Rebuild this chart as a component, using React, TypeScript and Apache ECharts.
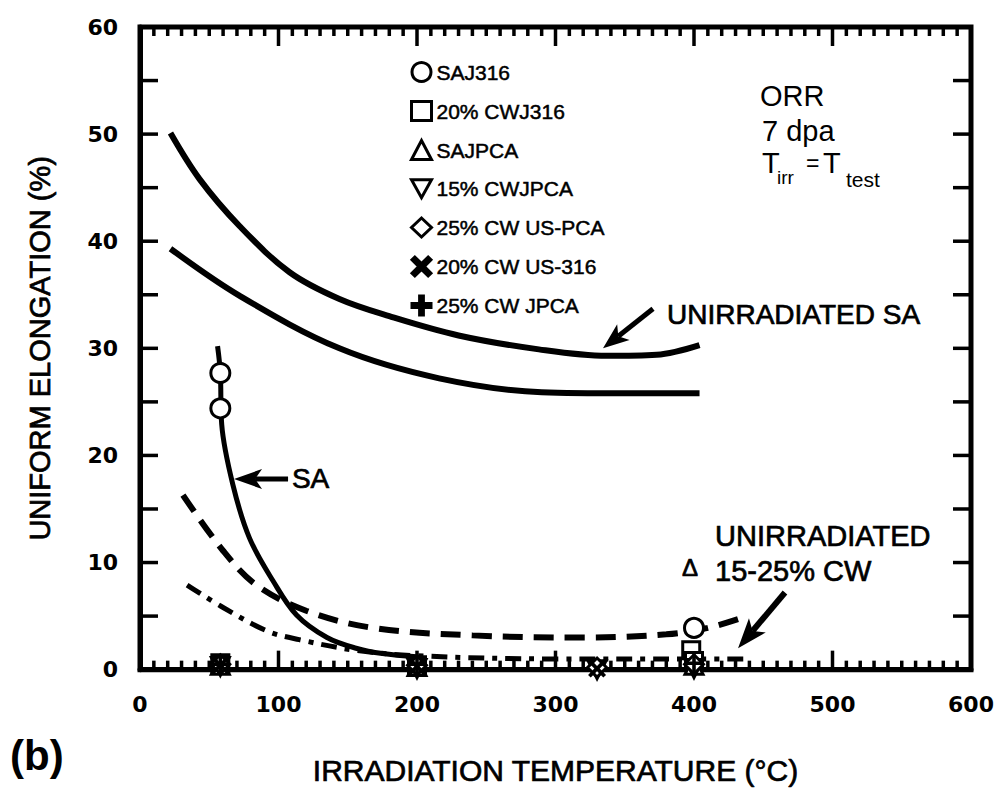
import React, { useEffect, useRef } from "react";
import * as echarts from "echarts";

// ---- axes ----
const X_MIN = 0;
const X_MAX = 600;
const X_STEP = 100;
const X_MINOR_STEP = 10;
const Y_MIN = 0;
const Y_MAX = 60;
const Y_STEP = 10;
const Y_MINOR_STEP = 5;

// ---- curves (temperature °C, uniform elongation %) ----
const unirradiatedSAUpper = [
  [22, 50.1], [43, 45.8], [72, 41.4], [108, 37.1], [144, 34.6], [180, 33.0],
  [230, 31.2], [288, 29.9], [337, 29.3], [373, 29.4], [404, 30.3],
];
const unirradiatedSALower = [
  [22, 39.3], [72, 34.9], [144, 30.0], [216, 27.2], [290, 25.9], [350, 25.8], [404, 25.8],
];
const irradiatedSA = [
  [56, 30.2], [58, 27.7], [59, 22.9], [67, 17.3], [79, 12.3], [96, 8.3], [113, 5.1],
  [135, 3.0], [156, 2.0], [175, 1.5], [200, 1.2],
];
const unirradiatedCWDashed = [
  [31, 16.3], [60, 11.1], [84, 7.9], [120, 5.5], [168, 3.9], [240, 3.2], [320, 3.0],
  [380, 3.3], [410, 3.9], [436, 4.9],
];
const irradiatedCWDashDot = [
  [34, 7.9], [60, 5.8], [92, 3.6], [115, 2.8], [156, 1.8], [200, 1.3], [300, 1.0],
  [400, 1.0], [440, 1.0],
];

// ---- data points ----
const saj316 = [[58, 27.7], [58, 24.4], [400, 3.9]];
const cwj316 = [[58, 0.6], [200, 0.4], [398, 1.8], [400, 0.8]];
const sajpca = [[58, 0.4], [200, 0.3], [400, 0.4]];
const cwjpca15 = [[58, 0.3], [200, 0.1], [330, 0.0], [400, 0.1]];
const cwUSPCA25 = [[58, 0.5], [200, 0.4], [330, 0.2], [400, 0.5]];
const cwUS316_20 = [[58, 0.4], [200, 0.3], [330, 0.1]];
const cwJPCA25 = [[58, 0.5], [200, 0.5], [400, 0.6]];

const legendNames = [
  "SAJ316",
  "20% CWJ316",
  "SAJPCA",
  "15% CWJPCA",
  "25% CW US-PCA",
  "20% CW US-316",
  "25% CW JPCA",
];

// ---- annotation anchors (data coordinates) ----
const noteORR = [447.7, 53.6];
const noteDpa = [449.1, 50.3];
const noteTirr = [449.1, 47.3];
const noteUnirrSA = [380.5, 33.2];
const arrowUnirrSA = [[370.4, 33.7], [334.3, 30.0]];
const noteSA = [109.7, 17.8];
const arrowSA = [[106.9, 17.8], [67.9, 17.8]];
const noteUnirrCW1 = [415.2, 12.5];
const noteDelta = [391.3, 9.5];
const noteUnirrCW2 = [415.2, 9.2];
const arrowUnirrCW = [[465.7, 7.2], [431.8, 2.0]];

const FONT = "'Liberation Sans', Arial, Helvetica, sans-serif";
const TICKFONT = "'DejaVu Sans', Verdana, sans-serif";

export default function App() {
  const ref = useRef<HTMLDivElement>(null);

  useEffect(() => {
    const chart = echarts.init(ref.current!, null, { renderer: "svg" });

    const lineSeries = (name: string, data: number[][], type: any, width = 6) => ({
      name,
      type: "line",
      data,
      smooth: 0.35,
      showSymbol: false,
      symbol: "none",
      lineStyle: { color: "#000", width, type, cap: "butt" },
      z: 2,
      silent: true,
    });

    const openStyle = () => ({ color: "#fff", borderColor: "#000", borderWidth: 3, opacity: 1 });
    const filledStyle = () => ({ color: "#000", borderWidth: 0, opacity: 1 });

    const scatter = (name: string, data: number[][], symbol: string, style: any, size = 18) => ({
      name,
      type: "scatter",
      data,
      symbol,
      symbolSize: size,
      itemStyle: style,
      z: 5,
    });

    const X_PATH = "path://M0,3 L3,0 L10,7 L17,0 L20,3 L13,10 L20,17 L17,20 L10,13 L3,20 L0,17 L7,10 Z";
    const PLUS_PATH = "path://M8,0 L12,0 L12,8 L20,8 L20,12 L12,12 L12,20 L8,20 L8,12 L0,12 L0,8 L8,8 Z";
    const INV_TRI = "path://M0,0 L20,0 L10,18 Z";

    const heavyLabel = { textBorderColor: "#000", textBorderWidth: 0.7 };

    chart.setOption({
      animation: false,
      backgroundColor: "#fff",
      grid: { left: 140, right: 37, top: 27, bottom: 119, show: true, borderColor: "#000", borderWidth: 5, backgroundColor: "transparent" },
      xAxis: {
        type: "value",
        min: X_MIN,
        max: X_MAX,
        interval: X_STEP,
        axisLine: { show: true, lineStyle: { color: "#000", width: 5 } },
        axisTick: { show: false },
        minorTick: { show: false },
        splitLine: { show: false },
        name: "IRRADIATION TEMPERATURE (°C)",
        nameLocation: "middle",
        nameGap: 86,
        nameTextStyle: { fontFamily: FONT, fontSize: 30, color: "#000", ...heavyLabel },
        axisLabel: { show: true, color: "#000", fontFamily: TICKFONT, fontWeight: "bold", fontSize: 22, margin: 24 },
      },
      yAxis: {
        type: "value",
        min: Y_MIN,
        max: Y_MAX,
        interval: Y_STEP,
        axisLine: { show: true, lineStyle: { color: "#000", width: 5 } },
        axisTick: { show: false },
        minorTick: { show: false },
        splitLine: { show: false },
        name: "UNIFORM ELONGATION (%)",
        nameLocation: "middle",
        nameRotate: 90,
        nameGap: 86,
        nameTextStyle: { fontFamily: FONT, fontSize: 29, color: "#000", ...heavyLabel },
        axisLabel: { show: true, color: "#000", fontFamily: TICKFONT, fontWeight: "bold", fontSize: 22, margin: 22 },
      },
      legend: {
        data: legendNames,
        orient: "vertical",
        left: 405,
        top: 56,
        itemWidth: 20,
        itemHeight: 19,
        itemGap: 17,
        selectedMode: false,
        itemStyle: { borderWidth: 3, borderColor: "#000" },
        textStyle: { fontFamily: FONT, fontSize: 21, lineHeight: 21, color: "#000", textBorderColor: "#000", textBorderWidth: 0.5 },
      },
      series: [
        lineSeries("Unirradiated SA (upper)", unirradiatedSAUpper, "solid", 6),
        lineSeries("Unirradiated SA (lower)", unirradiatedSALower, "solid", 6),
        lineSeries("Irradiated SA", irradiatedSA, "solid", 5),
        lineSeries("Unirradiated 15-25% CW", unirradiatedCWDashed, [20, 11], 6),
        lineSeries("Irradiated CW", irradiatedCWDashDot, [16, 8, 5, 8], 5),
        scatter(legendNames[0], saj316, "circle", openStyle(), 19),
        scatter(legendNames[1], cwj316, "rect", openStyle(), 17),
        scatter(legendNames[2], sajpca, "triangle", openStyle(), 18),
        scatter(legendNames[3], cwjpca15, INV_TRI, openStyle(), 18),
        scatter(legendNames[4], cwUSPCA25, "diamond", openStyle(), 19),
        scatter(legendNames[5], cwUS316_20, X_PATH, filledStyle(), 18),
        scatter(legendNames[6], cwJPCA25, PLUS_PATH, filledStyle(), 18),
      ],
    });

    const P = (p: number[]) => chart.convertToPixel({ xAxisIndex: 0, yAxisIndex: 0 }, p) as number[];

    // frame ticks, placed through the axes' own data-to-pixel conversion
    const tickStyle = { stroke: "#000", lineWidth: 3.5 };
    const tickLine = (x1: number, y1: number, x2: number, y2: number) => ({
      type: "line",
      silent: true,
      z: 3,
      shape: { x1, y1, x2, y2 },
      style: tickStyle,
    });
    const ticks: any[] = [];
    for (let v = X_MIN + X_MINOR_STEP; v < X_MAX; v += X_MINOR_STEP) {
      const len = v % X_STEP === 0 ? 19 : 9;
      const [xb, yb] = P([v, Y_MIN]);
      const [, yt] = P([v, Y_MAX]);
      ticks.push(tickLine(xb, yb, xb, yb - len));
      ticks.push(tickLine(xb, yt, xb, yt + len));
    }
    for (let v = Y_MIN + Y_MINOR_STEP; v < Y_MAX; v += Y_MINOR_STEP) {
      const [xl, yy] = P([X_MIN, v]);
      const [xr] = P([X_MAX, v]);
      ticks.push(tickLine(xl, yy, xl + 18, yy));
      ticks.push(tickLine(xr, yy, xr - 18, yy));
    }

    const heavy = { stroke: "#000", lineWidth: 0.7 };

    const text = (anchor: number[], str: string, size: number, extra: any = {}, dx = 0, dy = 0) => {
      const [x, y] = P(anchor);
      return {
        type: "text",
        x: x + dx,
        y: y + dy,
        silent: true,
        style: {
          text: str,
          fontFamily: FONT,
          fontSize: size,
          fill: "#000",
          align: "left",
          verticalAlign: "middle",
          ...extra,
        },
        z: 10,
      };
    };

    const arrow = (pts: number[][], headLen: number, headHalf: number, lw: number) => {
      const tail = P(pts[0]);
      const tip = P(pts[1]);
      const dx = tip[0] - tail[0];
      const dy = tip[1] - tail[1];
      const len = Math.hypot(dx, dy);
      const ux = dx / len;
      const uy = dy / len;
      const px = -uy;
      const py = ux;
      const bx = tip[0] - ux * headLen;
      const by = tip[1] - uy * headLen;
      const nx = tip[0] - ux * headLen * 0.75;
      const ny = tip[1] - uy * headLen * 0.75;
      return [
        {
          type: "line",
          silent: true,
          shape: { x1: tail[0], y1: tail[1], x2: nx, y2: ny },
          style: { stroke: "#000", lineWidth: lw },
          z: 10,
        },
        {
          type: "polygon",
          silent: true,
          shape: {
            points: [
              [tip[0], tip[1]],
              [bx + px * headHalf, by + py * headHalf],
              [nx, ny],
              [bx - px * headHalf, by - py * headHalf],
            ],
          },
          style: { fill: "#000" },
          z: 10,
        },
      ];
    };

    chart.setOption({
      graphic: [
        ...ticks,
        text(noteORR, "ORR", 29),
        text(noteDpa, "7 dpa", 29),
        text(noteTirr, "T", 29),
        text(noteTirr, "irr", 19, {}, 15, 14),
        text(noteTirr, "=", 23, {}, 44, 0),
        text(noteTirr, "T", 29, {}, 61, 0),
        text(noteTirr, "test", 21, {}, 84, 16),
        text(noteUnirrSA, "UNIRRADIATED SA", 28, heavy),
        ...arrow(arrowUnirrSA, 26, 10, 5),
        text(noteSA, "SA", 28, heavy),
        ...arrow(arrowSA, 28, 10, 5),
        text(noteUnirrCW1, "UNIRRADIATED", 29, heavy),
        text(noteDelta, "Δ", 24, heavy),
        text(noteUnirrCW2, "15-25% CW", 29, heavy),
        ...arrow(arrowUnirrCW, 30, 11, 6),
        {
          type: "text",
          left: 10,
          top: 734,
          silent: true,
          style: { text: "(b)", fontFamily: FONT, fontSize: 42, fontWeight: "bold", fill: "#000" },
        },
      ],
    });

    return () => chart.dispose();
  }, []);

  return (
    <div
      ref={ref}
      style={{ position: "absolute", left: 0, top: 0, width: 1008, height: 791, background: "#fff" }}
    />
  );
}
